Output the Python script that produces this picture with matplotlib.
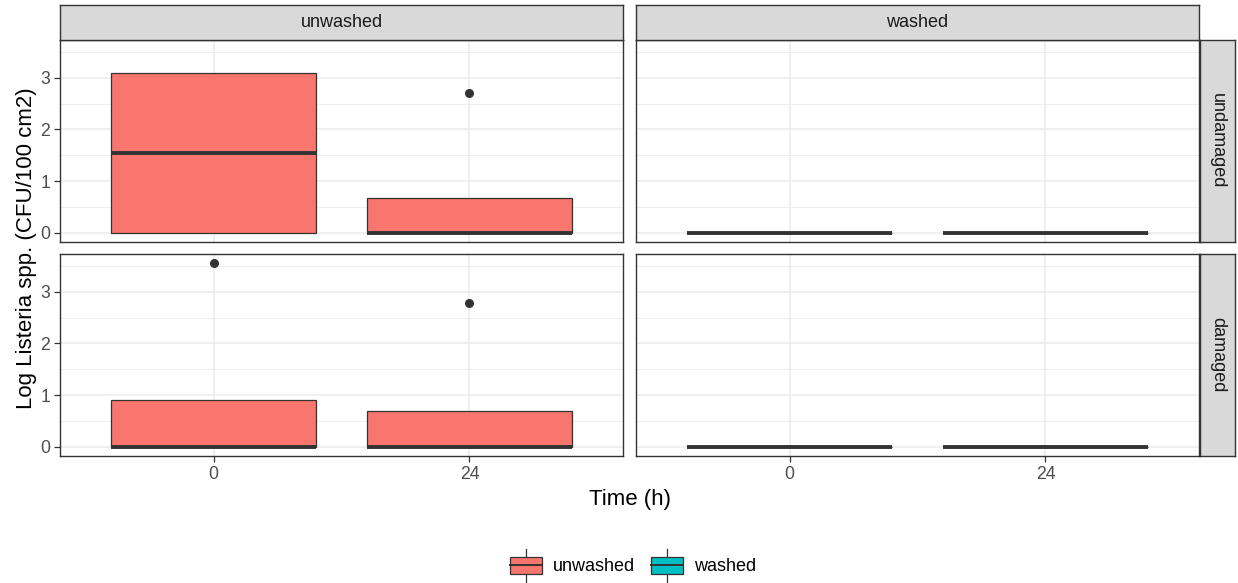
import matplotlib
matplotlib.use("Agg")
import matplotlib.pyplot as plt
from matplotlib.legend_handler import HandlerBase
from matplotlib.patches import Rectangle
from matplotlib.lines import Line2D

plt.rcParams["font.family"] = ["Liberation Sans", "DejaVu Sans"]

# data
times = ["0", "24"]
washing = ["unwashed", "washed"]
damage = ["undamaged", "damaged"]
colors = {"unwashed": "#F8766D", "washed": "#00BFC4"}

# box stats per (damage, washing): q1, median, q3 for 0 h and 24 h
q1 = {
    ("undamaged", "unwashed"): [0.0, 0.0],
    ("undamaged", "washed"): [0.0, 0.0],
    ("damaged", "unwashed"): [0.0, 0.0],
    ("damaged", "washed"): [0.0, 0.0],
}
med = {
    ("undamaged", "unwashed"): [1.55, 0.0],
    ("undamaged", "washed"): [0.0, 0.0],
    ("damaged", "unwashed"): [0.0, 0.0],
    ("damaged", "washed"): [0.0, 0.0],
}
q3 = {
    ("undamaged", "unwashed"): [3.1, 0.68],
    ("undamaged", "washed"): [0.0, 0.0],
    ("damaged", "unwashed"): [0.9, 0.7],
    ("damaged", "washed"): [0.0, 0.0],
}
outliers = {
    ("undamaged", "unwashed"): [[], [2.7]],
    ("undamaged", "washed"): [[], []],
    ("damaged", "unwashed"): [[3.55], [2.78]],
    ("damaged", "washed"): [[], []],
}

W, H = 1238, 583
fig = plt.figure(figsize=(W / 100, H / 100), dpi=100)

panel_x = [60, 636]
panel_w = 563
panel_y = [40, 254]
panel_h = 202


def fx(px):
    return px / W


def fy(py):
    return 1 - py / H


dark = "#333333"
axes = {}
for r, dmg in enumerate(damage):
    for c, wsh in enumerate(washing):
        ax = fig.add_axes([fx(panel_x[c]), fy(panel_y[r] + panel_h), fx(panel_w), panel_h / H])
        axes[(r, c)] = ax
        key = (dmg, wsh)
        stats = []
        for i in range(2):
            stats.append(dict(
                med=med[key][i], q1=q1[key][i], q3=q3[key][i],
                whislo=q1[key][i], whishi=q3[key][i],
                fliers=outliers[key][i],
            ))
        bp = ax.bxp(stats, positions=[1, 2], widths=0.8, patch_artist=True,
                    showcaps=False,
                    boxprops=dict(facecolor=colors[wsh], edgecolor=dark, linewidth=0.9),
                    medianprops=dict(color=dark, linewidth=2.8, solid_capstyle="butt"),
                    whiskerprops=dict(color=dark, linewidth=0.9),
                    flierprops=dict(marker="o", markerfacecolor=dark, markeredgecolor=dark,
                                    markersize=5.5))
        for b in bp["boxes"]:
            b.set_zorder(3)
        for m in bp["medians"]:
            m.set_zorder(4)
        ax.set_xlim(0.4, 2.6)
        ax.set_ylim(-0.18, 3.73)
        ax.set_yticks([0, 1, 2, 3])
        ax.set_yticks([0.5, 1.5, 2.5, 3.5], minor=True)
        ax.set_xticks([1, 2])
        ax.grid(True, which="major", color="#EBEBEB", linewidth=1.1, zorder=0)
        ax.grid(True, which="minor", axis="y", color="#EBEBEB", linewidth=0.55, zorder=0)
        ax.set_axisbelow(True)
        for s in ax.spines.values():
            s.set_color(dark)
            s.set_linewidth(1.0)
        ax.tick_params(axis="both", which="major", color=dark, length=4, width=0.9,
                       labelcolor="#4D4D4D", labelsize=12.7, pad=3)
        ax.tick_params(axis="both", which="minor", length=0)
        if c == 0:
            ax.set_yticklabels(["0", "1", "2", "3"])
        else:
            ax.tick_params(axis="y", which="major", labelleft=False, length=0)
        if r == 1:
            ax.set_xticklabels(times)
        else:
            ax.tick_params(axis="x", which="major", labelbottom=False, length=0)

# top strips
for c, wsh in enumerate(washing):
    sax = fig.add_axes([fx(panel_x[c]), fy(40), fx(panel_w), 35 / H])
    sax.set_facecolor("#D9D9D9")
    sax.set_xticks([])
    sax.set_yticks([])
    for s in sax.spines.values():
        s.set_color(dark)
        s.set_linewidth(1.0)
    sax.text(0.5, 0.5, wsh, ha="center", va="center", fontsize=13, color="#1A1A1A",
             transform=sax.transAxes)

# right strips
for r, dmg in enumerate(damage):
    sax = fig.add_axes([fx(1200), fy(panel_y[r] + panel_h), fx(35), panel_h / H])
    sax.set_facecolor("#D9D9D9")
    sax.set_xticks([])
    sax.set_yticks([])
    for s in sax.spines.values():
        s.set_color(dark)
        s.set_linewidth(1.0)
    sax.text(0.5, 0.5, dmg, ha="center", va="center", fontsize=13, color="#1A1A1A",
             rotation=-90, transform=sax.transAxes)

fig.text(fx(27), fy(248), "Log Listeria spp. (CFU/100 cm2)", rotation=90,
         ha="center", va="center", fontsize=16, color="black")
fig.text(fx(630), fy(500), "Time (h)", ha="center", va="center", fontsize=16, color="black")


class BoxKeyHandler(HandlerBase):
    def create_artists(self, legend, orig_handle, xdescent, ydescent, width, height,
                       fontsize, trans):
        fc = orig_handle.get_facecolor()
        bh = height * 1.0
        y0 = -ydescent + (height - bh) / 2
        rect = Rectangle((-xdescent, y0), width, bh, facecolor=fc, edgecolor=dark,
                         linewidth=0.9, transform=trans)
        mid = Line2D([-xdescent, -xdescent + width], [y0 + bh / 2] * 2, color=dark,
                     linewidth=1.4, transform=trans)
        xc = -xdescent + width / 2
        wt = Line2D([xc, xc], [y0 + bh, y0 + bh + height * 0.45], color=dark,
                    linewidth=0.9, transform=trans)
        wb = Line2D([xc, xc], [y0, y0 - height * 0.45], color=dark,
                    linewidth=0.9, transform=trans)
        return [rect, mid, wt, wb]


handles = [Rectangle((0, 0), 1, 1, facecolor=colors[w]) for w in washing]
fig.legend(handles, washing, handler_map={Rectangle: BoxKeyHandler()},
           loc="center", bbox_to_anchor=(fx(633), fy(566)), ncol=2, frameon=False,
           fontsize=13, handlelength=1.75, handleheight=1.1, handletextpad=0.6,
           columnspacing=0.9)

fig.savefig("out.png", dpi=100)
